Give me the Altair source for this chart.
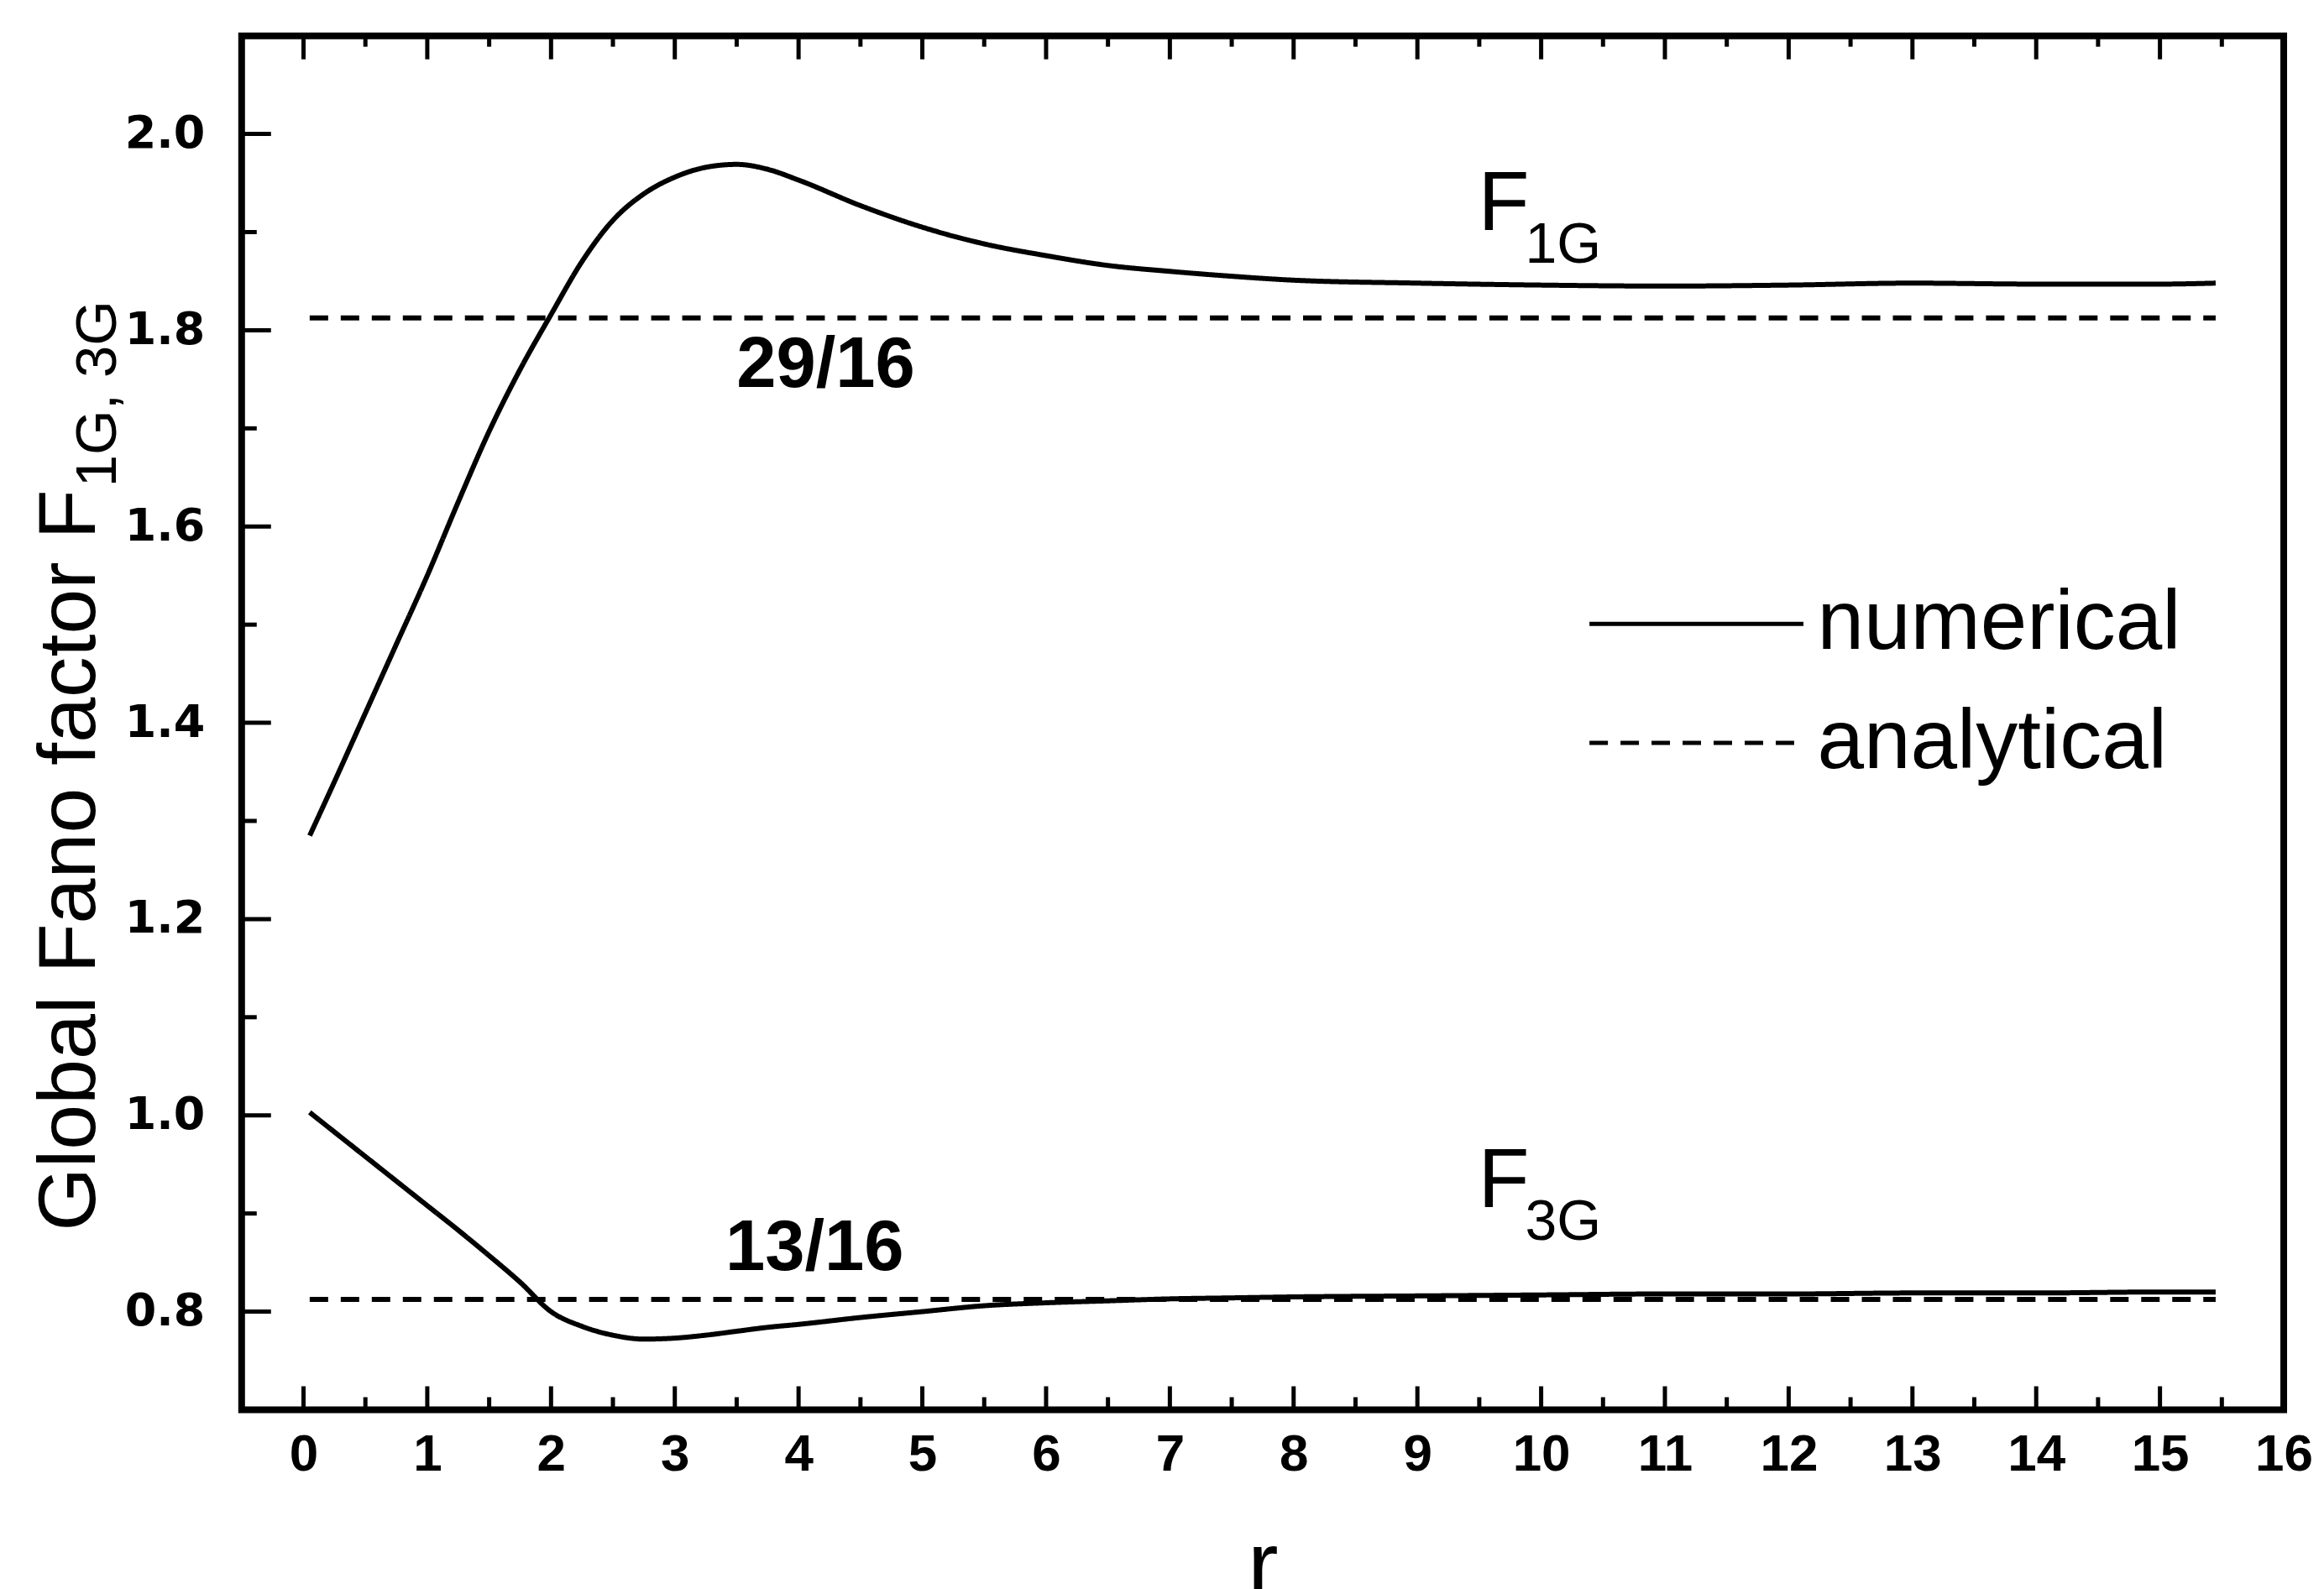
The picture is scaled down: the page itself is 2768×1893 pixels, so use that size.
import altair as alt
import pandas as pd

# ---------------- data ----------------
r_num = [0.05, 0.25, 0.5, 0.75, 1.0, 1.25, 1.5, 1.75, 2.0, 2.25, 2.5, 2.75, 3.0, 3.25,
         3.5, 3.75, 4.0, 4.5, 5.0, 5.5, 6.0, 6.5, 7.0, 7.5, 8.0, 9.0, 10.0, 11.0, 12.0,
         13.0, 14.0, 15.0, 15.45]
f1g_num = [1.285, 1.34, 1.41, 1.48, 1.55, 1.625, 1.697, 1.76, 1.816, 1.87, 1.912, 1.939,
           1.956, 1.966, 1.969, 1.964, 1.953, 1.927, 1.905, 1.888, 1.876, 1.866, 1.86, 1.855,
           1.851, 1.848, 1.846, 1.845, 1.846, 1.848, 1.847, 1.847, 1.848]
f3g_num = [1.003, 0.983, 0.958, 0.933, 0.908, 0.883, 0.857, 0.830, 0.800, 0.785, 0.776,
           0.772, 0.773, 0.776, 0.780, 0.784, 0.787, 0.794, 0.800, 0.806, 0.809, 0.811,
           0.813, 0.814, 0.815, 0.816, 0.817, 0.818, 0.818, 0.819, 0.819, 0.820, 0.820]

r_ana = [0.05, 15.45]
f1g_ana = [29 / 16, 29 / 16]
f3g_ana = [13 / 16, 13 / 16]

kind_names = ["numerical", "analytical"]

x_labels = list(range(0, 17))
y_labels = [0.8, 1.0, 1.2, 1.4, 1.6, 1.8, 2.0]
x_major = list(range(0, 16))
x_minor = [i + 0.5 for i in range(0, 16)]
y_major = [0.8, 1.0, 1.2, 1.4, 1.6, 1.8, 2.0]
y_minor = [0.9, 1.1, 1.3, 1.5, 1.7, 1.9]

frac_text = ["29/16", "13/16"]
frac_r = [4.22, 4.13]
frac_F = [1.742, 0.842]

f_text = ["F", "F"]
f_r = [9.49, 9.49]
f_F = [1.9025, 0.9064]
sub_text = ["1G", "3G"]
sub_r = [9.87, 9.87]
sub_F = [1.869, 0.873]

title_main = "Global Fano factor F"
title_sub = "1G, 3G"

# ---------------- layout ----------------
W, H = 2434, 1638
SANS = "Liberation Sans, Arial, Helvetica, sans-serif"

xscale = alt.Scale(domain=[-0.5, 16], nice=False, zero=False)
yscale = alt.Scale(domain=[0.7, 2.1], nice=False, zero=False)

rows = []
for r, a, b in zip(r_num, f1g_num, f3g_num):
    rows.append({"r": r, "F": a, "curve": "F1G num", "kind": "numerical"})
    rows.append({"r": r, "F": b, "curve": "F3G num", "kind": "numerical"})
for r, a, b in zip(r_ana, f1g_ana, f3g_ana):
    rows.append({"r": r, "F": a, "curve": "F1G ana", "kind": "analytical"})
    rows.append({"r": r, "F": b, "curve": "F3G ana", "kind": "analytical"})
lines_df = pd.DataFrame(rows)

lines = alt.Chart(lines_df).mark_line(color="black", strokeWidth=6, interpolate="monotone").encode(
    x=alt.X("r:Q", scale=xscale,
            axis=alt.Axis(orient="bottom", values=x_labels, format="d", domain=False, ticks=False,
                          grid=False, labelFont=SANS, labelFontWeight="bold", labelFontSize=62,
                          labelColor="black", labelPadding=23, labelFlush=False, labelOverlap=False,
                          title="r", titleFont=SANS, titleFontSize=110, titleFontWeight="normal",
                          titleColor="black", titlePadding=50)),
    y=alt.Y("F:Q", scale=yscale,
            axis=alt.Axis(orient="left", values=y_labels, format=".1f", domain=False, ticks=False,
                          grid=False, labelFont="DejaVu Sans", labelFontWeight="bold",
                          labelFontSize=54, labelColor="black", labelPadding=44,
                          labelOverlap=False, title=None)),
    detail="curve:N",
    strokeDash=alt.StrokeDash(
        "kind:N",
        scale=alt.Scale(domain=kind_names, range=[[1, 0], [22, 15]]),
        legend=alt.Legend(orient="none", legendX=1604, legendY=651, title=None,
                          labelFont=SANS, labelFontSize=100, labelColor="black", labelLimit=2000,
                          symbolType="stroke", symbolSize=65025, symbolStrokeWidth=5,
                          symbolStrokeColor="black", labelOffset=14, clipHeight=100,
                          rowPadding=42, padding=0),
    ),
)


def xticks(vals, length, top):
    df = pd.DataFrame({"v": vals})
    if top:
        yy, yy2 = alt.value(0), alt.value(length)
    else:
        yy, yy2 = alt.value(H), alt.value(H - length)
    return alt.Chart(df).mark_rule(color="black", strokeWidth=5).encode(
        x=alt.X("v:Q", scale=xscale, axis=None), y=yy, y2=yy2)


def yticks(vals, length):
    df = pd.DataFrame({"v": vals})
    return alt.Chart(df).mark_rule(color="black", strokeWidth=5).encode(
        y=alt.Y("v:Q", scale=yscale, axis=None), x=alt.value(0), x2=alt.value(length))


tick_layers = [
    xticks(x_major, 28, False), xticks(x_minor, 15, False),
    xticks(x_major, 28, True), xticks(x_minor, 13, True),
    yticks(y_major, 35), yticks(y_minor, 18),
]

frac = alt.Chart(pd.DataFrame({"t": frac_text, "r": frac_r, "F": frac_F})).mark_text(
    font=SANS, fontWeight="bold", fontSize=85, align="center", baseline="alphabetic", color="black"
).encode(x=alt.X("r:Q", scale=xscale, axis=None), y=alt.Y("F:Q", scale=yscale, axis=None), text="t:N")

flab = alt.Chart(pd.DataFrame({"t": f_text, "r": f_r, "F": f_F})).mark_text(
    font=SANS, fontSize=100, align="left", baseline="alphabetic", color="black"
).encode(x=alt.X("r:Q", scale=xscale, axis=None), y=alt.Y("F:Q", scale=yscale, axis=None), text="t:N")

fsub = alt.Chart(pd.DataFrame({"t": sub_text, "r": sub_r, "F": sub_F})).mark_text(
    font=SANS, fontSize=68, align="left", baseline="alphabetic", color="black"
).encode(x=alt.X("r:Q", scale=xscale, axis=None), y=alt.Y("F:Q", scale=yscale, axis=None), text="t:N")

ytitle = alt.Chart(pd.DataFrame({"t": [title_main]})).mark_text(
    font=SANS, fontSize=97, angle=270, align="left", baseline="alphabetic", color="black"
).encode(x=alt.value(-175), y=alt.value(1425), text="t:N")

ytitle_sub = alt.Chart(pd.DataFrame({"t": [title_sub]})).mark_text(
    font=SANS, fontSize=69, angle=270, align="left", baseline="alphabetic", color="black"
).encode(x=alt.value(-150), y=alt.value(538), text="t:N")

chart = alt.layer(lines, *tick_layers, frac, flab, fsub, ytitle, ytitle_sub).resolve_axis(
    x="independent", y="independent"
).properties(
    width=W, height=H,
    autosize=alt.AutoSizeParams(type="none"),
    padding={"left": 280, "top": 34, "right": 40, "bottom": 213},
    background="white",
).configure_view(stroke="black", strokeWidth=8)

chart.save("out.html", embed_options={"renderer": "svg", "actions": False})
